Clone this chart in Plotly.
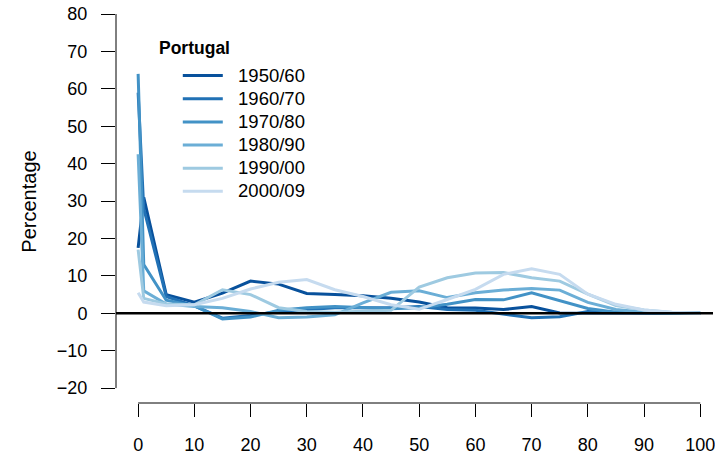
import plotly.graph_objects as go

ages = [0, 1, 5, 10, 15, 20, 25, 30, 35, 40, 45, 50, 55, 60, 65, 70, 75, 80, 85, 90, 95, 100]

periods = ["1950/60", "1960/70", "1970/80", "1980/90", "1990/00", "2000/09"]
colors = ["#08519c", "#2171b5", "#4292c6", "#6baed6", "#9ecae1", "#c6dbef"]

p1950_60 = [17.5, 31.0, 5.0, 3.0, 5.4, 8.6, 7.8, 5.3, 5.0, 4.7, 4.0, 3.0, 1.5, 1.4, 1.0, 1.8, 0.1, 0.1, 0.0, 0.0, 0.0, 0.0]
p1960_70 = [59.0, 28.0, 4.5, 2.0, -1.3, -0.6, 0.5, 1.0, 1.5, 1.5, 1.5, 1.8, 1.0, 0.8, -0.3, -1.2, -0.9, 0.5, 0.3, 0.1, 0.0, 0.0]
p1970_80 = [64.0, 13.0, 3.5, 2.0, -1.5, -1.0, 0.8, 1.5, 1.8, 1.5, 1.2, 1.5, 2.4, 3.7, 3.6, 5.5, 3.3, 1.3, 0.3, 0.1, 0.0, 0.0]
p1980_90 = [42.5, 6.0, 2.5, 1.8, 1.5, 0.5, -1.2, -1.0, -0.4, 2.8, 5.6, 6.0, 4.2, 5.5, 6.2, 6.6, 6.2, 2.9, 1.0, 0.3, 0.1, 0.0]
p1990_00 = [17.0, 4.0, 2.5, 2.3, 6.3, 5.0, 1.5, 0.5, 0.3, 0.5, 0.8, 7.0, 9.5, 10.8, 10.9, 9.5, 8.6, 5.1, 2.1, 0.9, 0.2, 0.0]
p2000_09 = [5.5, 3.0, 2.0, 2.3, 4.0, 6.5, 8.3, 9.0, 6.3, 4.5, 2.3, 1.1, 3.7, 6.4, 10.4, 11.9, 10.4, 5.1, 2.4, 0.9, 0.3, 0.0]

series = [p1950_60, p1960_70, p1970_80, p1980_90, p1990_00, p2000_09]

legend_title = "Portugal"
x_ticks = [0, 10, 20, 30, 40, 50, 60, 70, 80, 90, 100]
y_ticks = [-20, -10, 0, 10, 20, 30, 40, 50, 60, 70, 80]

FONT = "Liberation Sans, Arial, Helvetica, sans-serif"
LEG_TEXT = 18.5

fig = go.Figure()
for name, vals, col in zip(periods, series, colors):
    label = "<span style='font-size:%gpx'>\u00a0\u00a0%s</span>" % (LEG_TEXT, name)
    fig.add_trace(go.Scatter(x=ages, y=vals, mode="lines", name=label,
                             line=dict(color=col, width=3)))

W, H = 715, 455
ml, mb = 116, 52
px_per_x = 5.64
px_per_y = 3.741
x0_px = 138.2
y0_px = 313.3
plot_w = W - ml
plot_h = H - mb
x_lo = -(x0_px - ml) / px_per_x
x_hi = x_lo + plot_w / px_per_x
y_lo = -(plot_h - y0_px) / px_per_y
y_hi = y_lo + plot_h / px_per_y

fig.update_layout(
    width=W, height=H,
    margin=dict(l=ml, r=0, t=0, b=mb, pad=0),
    paper_bgcolor="white", plot_bgcolor="white",
    font=dict(family=FONT, size=18, color="black"),
    showlegend=True,
    legend=dict(
        x=(178 - ml) / plot_w, y=1 - 59 / plot_h, xanchor="left", yanchor="top",
        bgcolor="rgba(0,0,0,0)", borderwidth=0,
        font=dict(family=FONT, size=15.5, color="black"),
        tracegroupgap=0, itemwidth=40,
    ),
    annotations=[
        dict(text="<b>%s</b>" % legend_title, xref="paper", yref="paper",
             x=(157 - ml) / plot_w, y=1 - 48 / plot_h, xanchor="left", yanchor="middle",
             showarrow=False, font=dict(family=FONT, size=17.5, color="black")),
    ],
    xaxis=dict(
        range=[x_lo, x_hi], tickmode="array", tickvals=x_ticks,
        ticktext=[str(v) for v in x_ticks],
        showgrid=False, zeroline=False, showline=False,
        ticks="outside", ticklen=13, tickwidth=1, tickcolor="black",
        ticklabelstandoff=12, ticklabeloverflow="allow",
        tickfont=dict(family=FONT, size=18, color="black"),
    ),
    yaxis=dict(
        range=[y_lo, y_hi], tickmode="array", tickvals=y_ticks,
        ticktext=[("\u2212" + str(-v)) if v < 0 else str(v) for v in y_ticks],
        showgrid=False, zeroline=False, showline=False,
        ticks="outside", ticklen=14, tickwidth=1, tickcolor="black",
        ticklabelstandoff=10, ticklabeloverflow="allow",
        tickfont=dict(family=FONT, size=18, color="black"),
        title=dict(text="Percentage", font=dict(family=FONT, size=20, color="black"), standoff=14),
    ),
    shapes=[
        dict(type="line", xref="x", yref="paper", x0=x_ticks[0], x1=x_ticks[-1], y0=0, y1=0,
             line=dict(color="black", width=1)),
        dict(type="line", xref="paper", yref="y", x0=0, x1=0, y0=y_ticks[0], y1=y_ticks[-1],
             line=dict(color="black", width=1)),
        dict(type="line", xref="paper", yref="y", x0=0, x1=1, y0=0, y1=0,
             line=dict(color="black", width=2.5), layer="above"),
    ],
)

fig.write_html(
    "out.html",
    config={"displayModeBar": False},
    post_script="document.body.style.margin='0';document.body.style.overflow='hidden';",
)
